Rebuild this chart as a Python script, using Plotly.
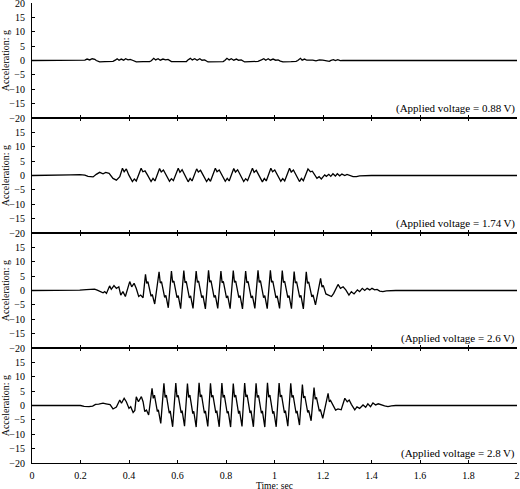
import plotly.graph_objects as go

voltages = ["0.88", "1.74", "2.6", "2.8"]
x_ticks = [0, 0.2, 0.4, 0.6, 0.8, 1.0, 1.2, 1.4, 1.6, 1.8, 2.0]
x_tick_labels = ["0", "0.2", "0.4", "0.6", "0.8", "1", "1.2", "1.4", "1.6", "1.8", "2"]
y_ticks_top = [-20, -15, -10, -5, 0, 5, 10, 15, 20]
y_ticks_other = [-20, -15, -10, -5, 0, 5, 10, 15]

# ---- Panel 1: 0.88 V ----
t1 = [0, 0.04, 0.073, 0.11, 0.142, 0.183, 0.197, 0.218, 0.227, 0.238, 0.248, 0.259, 0.265, 0.279,
      0.300, 0.320, 0.334, 0.345, 0.351, 0.359, 0.368, 0.378, 0.386, 0.396, 0.405, 0.417,
      0.430, 0.458, 0.485, 0.492, 0.502, 0.510, 0.520, 0.529, 0.540, 0.551, 0.561, 0.575,
      0.609, 0.637, 0.643, 0.653, 0.661, 0.671, 0.681, 0.692, 0.701, 0.712, 0.726,
      0.760, 0.788, 0.795, 0.804, 0.813, 0.822, 0.832, 0.843, 0.852, 0.863, 0.877,
      0.912, 0.932, 0.946, 0.956, 0.964, 0.974, 0.983, 0.994, 1.005, 1.015, 1.024, 1.035,
      1.069, 1.089, 1.096, 1.107, 1.114, 1.124, 1.133, 1.144, 1.158, 1.171, 1.185, 1.199,
      1.212, 1.226, 1.233, 1.243, 1.251, 1.261, 1.271, 1.282, 1.31, 1.4, 1.5, 1.6, 1.7,
      1.8, 1.9, 2.0]
a1 = [0, 0.03, 0, -0.03, 0.05, 0, 0.2, 0.15, 0.5, 0.2, 0.6, 0.4, 0, -0.5,
      -0.4, -0.4, -0.3, 0.2, 0.6, 0.1, 0.5, 0.1, 0.6, 0.2, 0.4, 0,
      -0.5, -0.4, -0.4, -0.1, 0.75, 0.2, 0.6, 0.1, 0.5, 0.2, 0.4, -0.4,
      -0.4, -0.35, 0.2, 0.75, 0.2, 0.6, 0.1, 0.6, 0.1, 0.2, -0.5,
      -0.4, -0.4, 0, 0.75, 0.2, 0.6, 0.1, 0.5, 0.1, 0.2, -0.5,
      -0.35, -0.3, 0.2, 0.6, 0.1, 0.6, 0.1, 0.5, 0.1, 0.2, -0.2, -0.5,
      -0.4, -0.3, 0, 0.75, 0.1, 0.5, 0.1, 0.2, 0.1, -0.1, 0.2, 0.1,
      -0.2, -0.3, 0.05, 0.3, -0.05, 0.3, -0.05, 0.05, 0, 0.03, -0.03, 0.03, 0,
      0.03, -0.03, 0]

# ---- Panel 2: 1.74 V ----
t2 = [0, 0.05, 0.1, 0.16, 0.197, 0.218, 0.231, 0.252, 0.265, 0.279, 0.293, 0.304, 0.318,
      0.334, 0.348, 0.362,
      0.373, 0.380, 0.389, 0.399, 0.414, 0.422, 0.430,
      0.450, 0.457, 0.466, 0.476, 0.491, 0.499, 0.507,
      0.526, 0.533, 0.542, 0.552, 0.567, 0.575, 0.583,
      0.603, 0.610, 0.619, 0.629, 0.644, 0.652, 0.660,
      0.679, 0.686, 0.695, 0.705, 0.720, 0.728, 0.736,
      0.756, 0.763, 0.772, 0.782, 0.797, 0.805, 0.813,
      0.832, 0.839, 0.848, 0.858, 0.873, 0.881, 0.889,
      0.909, 0.916, 0.925, 0.935, 0.950, 0.958, 0.966,
      0.985, 0.992, 1.001, 1.011, 1.026, 1.034, 1.042,
      1.062, 1.069, 1.078, 1.088, 1.103, 1.111, 1.119,
      1.138, 1.148, 1.156, 1.166, 1.175, 1.184, 1.193, 1.207, 1.214, 1.224, 1.232, 1.241,
      1.251, 1.259, 1.269, 1.278, 1.290, 1.299, 1.310, 1.324, 1.338, 1.351, 1.4, 1.5,
      1.6, 1.7, 1.8, 1.9, 2.0]
a2 = [0, 0.03, -0.03, 0.2, 0.3, 0.1, -0.3, -0.5, 0.4, 1.1, 0.6, 1.1, 0.75,
      -1.0, -1.6, -0.4,
      2.5, 1.3, 2.3, 0.2, -2.1, -1.2, -1.9,
      2.5, 1.3, 1.6, 0.2, -2.1, -1.0, -1.9,
      2.4, 1.2, 1.9, 0.1, -2.0, -1.1, -1.8,
      2.5, 1.1, 2.0, 0.2, -2.2, -1.0, -1.9,
      2.3, 1.2, 1.8, 0.1, -2.1, -1.1, -2.0,
      2.5, 1.3, 1.9, 0.2, -2.0, -1.0, -1.9,
      2.4, 1.2, 2.0, 0.1, -2.1, -1.1, -1.8,
      2.5, 1.1, 1.8, 0.2, -2.2, -1.0, -1.9,
      2.5, 1.3, 1.9, 0.1, -2.0, -1.1, -1.9,
      2.5, 1.2, 1.9, 0.2, -2.1, -1.0, -1.8,
      2.3, 1.3, 1.5, 0.2, -1.0, -0.4, -1.2, 0.2, -0.3, 0.4, -0.3, 0.6,
      -0.2, 0.6, -0.1, 0.5, 0, 0.4, 0, -0.4, -0.4, -0.1, 0, 0.03,
      -0.03, 0.03, 0, 0.03, 0]

# ---- Panel 3: 2.6 V ----
t3 = [0, 0.05, 0.1, 0.176, 0.197, 0.224, 0.258, 0.269, 0.279, 0.293, 0.300, 0.307, 0.320,
      0.327, 0.338, 0.348, 0.358, 0.366, 0.375, 0.385, 0.403, 0.411, 0.421, 0.430, 0.440,
      0.448, 0.458,
      0.468, 0.473, 0.478, 0.491, 0.496, 0.506,
      0.524, 0.529, 0.534, 0.547, 0.552, 0.562,
      0.575, 0.580, 0.585, 0.598, 0.603, 0.613,
      0.626, 0.631, 0.636, 0.649, 0.654, 0.664,
      0.677, 0.682, 0.687, 0.700, 0.705, 0.715,
      0.728, 0.733, 0.738, 0.751, 0.756, 0.766,
      0.779, 0.784, 0.789, 0.802, 0.807, 0.817,
      0.830, 0.835, 0.840, 0.853, 0.858, 0.868,
      0.881, 0.886, 0.891, 0.904, 0.909, 0.919,
      0.932, 0.937, 0.942, 0.955, 0.960, 0.970,
      0.983, 0.988, 0.993, 1.006, 1.011, 1.021,
      1.032, 1.037, 1.042, 1.055, 1.060, 1.070,
      1.081, 1.086, 1.091, 1.104, 1.109, 1.119,
      1.131, 1.136, 1.141, 1.154, 1.159, 1.169,
      1.190, 1.196, 1.201, 1.212, 1.221, 1.235, 1.244, 1.262, 1.272, 1.283, 1.294, 1.307,
      1.317, 1.328, 1.342, 1.351, 1.362, 1.372, 1.382, 1.393, 1.402, 1.413, 1.423, 1.434,
      1.447, 1.461, 1.5, 1.6, 1.7, 1.8, 1.9, 2.0]
a3 = [0, 0.03, -0.03, 0, 0.1, 0.3, 0.5, 0.1, -0.4, -0.8, -0.4, -1.0, 1.6,
      0.4, 1.7, 0.7, 1.3, -1.6, -0.4, -2.1, 3.1, 1.3, 2.5, 0.7, -2.1,
      -1.6, -2.5,
      5.6, 2.5, 3.1, -2.0, -1.4, -4.7,
      6.5, 2.6, 3.1, -2.4, -1.7, -6.0,
      6.8, 2.8, 3.3, -2.5, -1.8, -6.3,
      6.9, 2.7, 3.2, -2.6, -1.9, -6.2,
      6.8, 2.8, 3.3, -2.5, -1.8, -6.4,
      7.0, 2.9, 3.4, -2.4, -1.7, -6.2,
      6.8, 2.7, 3.2, -2.6, -1.9, -6.3,
      6.9, 2.8, 3.3, -2.5, -1.8, -6.4,
      6.8, 2.7, 3.2, -2.6, -1.9, -6.2,
      7.0, 2.8, 3.4, -2.5, -1.8, -6.3,
      7.0, 2.9, 3.3, -2.6, -1.9, -6.2,
      6.9, 2.8, 3.2, -2.5, -1.8, -6.3,
      6.6, 2.6, 3.1, -2.4, -1.7, -6.4,
      6.5, 2.5, 3.0, -2.2, -1.5, -5.0,
      4.2, 1.2, 1.8, -1.2, -1.6, -2.1, -1.0, 2.1, 0.75, 1.3, 0.2, -1.6,
      -0.4, -1.2, 0.2, -0.4, 0.75, 0, 0.75, 0.2, 0.75, 0.2, 0.4, -0.2,
      -0.4, -0.1, 0, 0.03, -0.03, 0.03, 0, 0]

# ---- Panel 4: 2.8 V ----
t4 = [0, 0.05, 0.1, 0.15, 0.2, 0.215, 0.235, 0.25, 0.262, 0.275, 0.285, 0.293, 0.305, 0.322,
      0.334, 0.348, 0.362, 0.369, 0.380, 0.389, 0.400, 0.407, 0.417, 0.424, 0.430, 0.439,
      0.451, 0.458, 0.465, 0.472, 0.481,
      0.495, 0.500, 0.505, 0.517, 0.521, 0.531,
      0.544, 0.549, 0.554, 0.566, 0.570, 0.580,
      0.593, 0.598, 0.603, 0.615, 0.619, 0.629,
      0.641, 0.646, 0.651, 0.663, 0.667, 0.677,
      0.689, 0.694, 0.699, 0.711, 0.715, 0.725,
      0.736, 0.741, 0.746, 0.758, 0.762, 0.772,
      0.783, 0.788, 0.793, 0.805, 0.809, 0.819,
      0.830, 0.835, 0.840, 0.852, 0.856, 0.866,
      0.877, 0.882, 0.887, 0.899, 0.903, 0.913,
      0.924, 0.929, 0.934, 0.946, 0.950, 0.960,
      0.971, 0.976, 0.981, 0.993, 0.997, 1.007,
      1.019, 1.024, 1.029, 1.041, 1.045, 1.055,
      1.067, 1.072, 1.077, 1.089, 1.093, 1.103,
      1.115, 1.120, 1.125, 1.137, 1.141, 1.151,
      1.163, 1.168, 1.173, 1.185, 1.189, 1.199,
      1.221, 1.226, 1.231, 1.252, 1.262, 1.275, 1.290, 1.300, 1.308, 1.317, 1.331, 1.340,
      1.351, 1.365, 1.376, 1.385, 1.396, 1.406, 1.417, 1.428, 1.440, 1.454, 1.468, 1.482,
      1.5, 1.6, 1.7, 1.8, 1.9, 2.0]
a4 = [0, 0.03, -0.03, 0.03, 0, -0.3, -0.4, -0.2, 0.4, 0.5, 0.6, 0.8, 0.6, 0.3,
      -1.2, -0.5, 1.9, 0.8, 2.5, 1.3, -1.0, -0.4, -2.4, -1.7, 3.0, 1.3,
      3.1, 1.3, -2.1, -1.6, -3.3,
      6.0, 2.5, 3.6, -2.1, -1.5, -6.2,
      7.7, 2.8, 3.6, -2.7, -1.9, -7.4,
      7.8, 2.9, 3.5, -2.6, -1.8, -7.2,
      7.6, 2.8, 3.6, -2.8, -2.0, -7.5,
      7.9, 3.0, 3.7, -2.7, -1.9, -7.3,
      7.7, 2.9, 3.5, -2.6, -1.8, -7.4,
      7.8, 2.8, 3.6, -2.7, -2.0, -7.5,
      7.6, 2.9, 3.6, -2.8, -1.9, -7.3,
      7.8, 3.0, 3.7, -2.6, -1.8, -7.4,
      7.7, 2.8, 3.5, -2.7, -1.9, -7.5,
      7.9, 2.9, 3.6, -2.8, -2.0, -7.4,
      7.8, 3.0, 3.6, -2.6, -1.8, -7.2,
      7.7, 2.8, 3.5, -2.7, -1.9, -6.8,
      7.3, 2.6, 3.3, -2.4, -1.7, -5.3,
      6.2, 2.2, 2.8, -2.0, -1.4, -4.5,
      4.2, 1.3, 1.8, -1.6, -1.2, -1.5, 2.5, 1.3, 1.9, 0.4, -1.5, -0.5,
      -1.0, 0.2, -0.6, 0.6, -0.4, 0.9, 0.2, 0.6, 0.2, -0.1, -0.4, -0.1,
      0, 0.03, -0.03, 0.03, 0, 0]

series = [(t1, a1), (t2, a2), (t3, a3), (t4, a4)]

FONT = "Liberation Serif"
domains = [[0.75, 1.0], [0.5, 0.75], [0.25, 0.5], [0.0, 0.25]]

fig = go.Figure()
for i, (t, a) in enumerate(series):
    sfx = "" if i == 0 else str(i + 1)
    fig.add_trace(go.Scatter(x=t, y=a, mode="lines",
                             line=dict(color="black", width=1.3),
                             xaxis="x" + sfx, yaxis="y" + sfx,
                             showlegend=False, hoverinfo="skip"))

layout = dict(
    width=520, height=489,
    margin=dict(l=32, r=3, t=3, b=26, autoexpand=False),
    paper_bgcolor="white", plot_bgcolor="white",
    font=dict(family=FONT, size=10, color="black"),
    showlegend=False,
)

annotations = []
for i in range(4):
    sfx = "" if i == 0 else str(i + 1)
    layout["xaxis" + sfx] = dict(
        domain=[0, 1], anchor="y" + sfx, range=[0, 2],
        tickvals=x_ticks, ticktext=x_tick_labels,
        ticks="inside", ticklen=3, tickwidth=1, tickcolor="black",
        showline=True, linecolor="black", linewidth=1,
        mirror=("ticks" if i > 0 else False),
        showgrid=False, zeroline=False, automargin=False,
        showticklabels=(i == 3),
        ticklabeloverflow="allow",
        tickfont=dict(family=FONT, size=10, color="black"),
        ticklabelstandoff=3,
        **({} if i == 0 else {"matches": "x"}),
    )
    layout["yaxis" + sfx] = dict(
        domain=domains[i], anchor="x" + sfx, range=[-20, 20],
        tickvals=(y_ticks_top if i == 0 else y_ticks_other),
        ticks="inside", ticklen=3, tickwidth=1, tickcolor="black",
        showline=True, linecolor="black", linewidth=1,
        showgrid=False, zeroline=False, automargin=False,
        ticklabeloverflow="allow",
        tickfont=dict(family=FONT, size=10, color="black"),
        ticklabelstandoff=4,
    )
    annotations.append(dict(
        text=f"(Applied voltage = {voltages[i]}\u2009V)",
        xref="x" + sfx, yref="y" + sfx, x=2, y=-16.8,
        xanchor="right", yanchor="middle", showarrow=False,
        font=dict(family=FONT, size=11, color="black"),
    ))
    annotations.append(dict(
        text="Acceleration: g",
        xref="paper", yref="paper", x=-0.054,
        y=(domains[i][0] + domains[i][1]) / 2,
        xanchor="center", yanchor="middle", textangle=-90, showarrow=False,
        font=dict(family=FONT, size=10, color="black"),
    ))

annotations.append(dict(
    text="Time: sec", xref="paper", yref="paper", x=0.5, y=-0.051,
    xanchor="center", yanchor="middle", showarrow=False,
    font=dict(family=FONT, size=9.5, color="black"),
))
layout["annotations"] = annotations

fig.update_layout(**layout)
fig.write_html(
    "out.html",
    config={"displayModeBar": False},
    post_script="document.body.style.margin='0';document.body.style.overflow='hidden';",
)
